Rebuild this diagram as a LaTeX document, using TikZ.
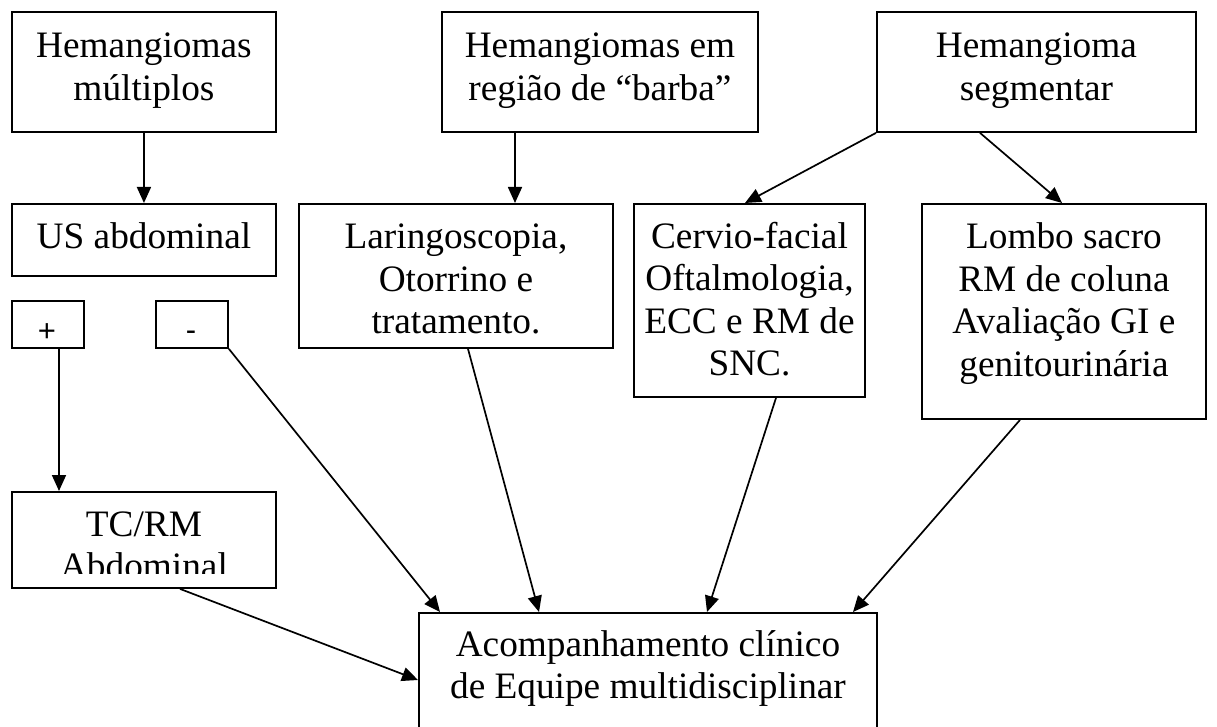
\documentclass[tikz,border=0pt]{standalone}
\usepackage{fontspec}
\setmainfont{Liberation Serif}
\newfontfamily\signfont{Liberation Sans}
\usetikzlibrary{arrows.meta}
\begin{document}
\begin{tikzpicture}[x=1pt,y=-1pt,
  box/.style={draw, line width=1.9pt, inner sep=0pt, anchor=north west},
  txt/.style={font=\fontsize{37.3}{42.5}\selectfont, align=center, inner sep=0pt, anchor=north},
  sign/.style={font=\signfont\fontsize{31}{36}\selectfont, inner sep=0pt, anchor=base},
  arr/.style={line width=1.7pt, -{Triangle[length=16pt,width=14pt]}}]
\clip (0,0) rectangle (1217,727);
\fill[white] (0,0) rectangle (1217,727);
% boxes
\node[box, minimum width=264pt, minimum height=120pt] (b1) at (11,11) {};
\node[box, minimum width=316pt, minimum height=120pt] (b2) at (441,11) {};
\node[box, minimum width=319pt, minimum height=120pt] (b3) at (876,11) {};
\node[box, minimum width=264pt, minimum height=72pt] (us) at (11,203) {};
\node[box, minimum width=314pt, minimum height=144pt] (lar) at (298,203) {};
\node[box, minimum width=231pt, minimum height=193pt] (cerv) at (633,203) {};
\node[box, minimum width=284pt, minimum height=215pt] (lomb) at (921,203) {};
\node[box, minimum width=72pt, minimum height=47pt] (plus) at (11,300) {};
\node[box, minimum width=72pt, minimum height=47pt] (minus) at (155,300) {};
\node[box, minimum width=264pt, minimum height=96pt] (tc) at (11,491) {};
\node[box, minimum width=458pt, minimum height=148pt] (acomp) at (418,612) {};
% texts
\node[txt] (b1t) at ([yshift=-17pt]b1.north) {\strut Hemangiomas\\\strut múltiplos};
\node[txt] (b2t) at ([yshift=-17pt]b2.north) {\strut Hemangiomas em\\\strut região de “barba”};
\node[txt] (b3t) at ([yshift=-17pt]b3.north) {\strut Hemangioma\\\strut segmentar};
\node[txt] (ust) at ([yshift=-16pt]us.north) {\strut US abdominal};
\node[txt] (lart) at ([yshift=-16pt]lar.north) {\strut Laringoscopia,\\\strut Otorrino e\\\strut tratamento.};
\node[txt] (cervt) at ([yshift=-15.5pt]cerv.north) {\strut Cervio-facial\\\strut Oftalmologia,\\\strut ECC e RM de\\\strut SNC.};
\node[txt] (lombt) at ([yshift=-16pt]lomb.north) {\strut Lombo sacro\\\strut RM de coluna\\\strut Avaliação GI e\\\strut genitourinária};
\node[sign] (plust) at (47,341) {+};
\node[sign] (minust) at (191,340) {-};
\begin{scope}
\clip (13,493) rectangle (273,573);
\node[txt] (tct) at ([yshift=-15.5pt]tc.north) {\strut TC/RM\\\strut Abdominal};
\end{scope}
\node[txt] (acompt) at ([yshift=-14.5pt]acomp.north) {\strut Acompanhamento clínico\\\strut de Equipe multidisciplinar};
% arrows
\draw[arr] (b1.south) -- (us.north);
\draw[arr] ([xshift=74pt]b2.south west) -- ([xshift=217pt]lar.north west);
\draw[arr] (b3.south west) -- ([xshift=112pt]cerv.north west);
\draw[arr] ([xshift=104pt]b3.south west) -- ([xshift=141pt]lomb.north west);
\draw[arr] ([xshift=48pt]plus.south west) -- ([xshift=48pt]tc.north west);
\draw[arr] (minus.south east) -- ([xshift=22pt]acomp.north west);
\draw[arr] ([xshift=170pt]lar.south west) -- ([xshift=121pt]acomp.north west);
\draw[arr] ([xshift=143pt]cerv.south west) -- ([xshift=289pt]acomp.north west);
\draw[arr] ([xshift=99pt]lomb.south west) -- ([xshift=435pt]acomp.north west);
\draw[arr] ([xshift=169pt]tc.south west) -- ([yshift=-68pt]acomp.north west);
\end{tikzpicture}
\end{document}
